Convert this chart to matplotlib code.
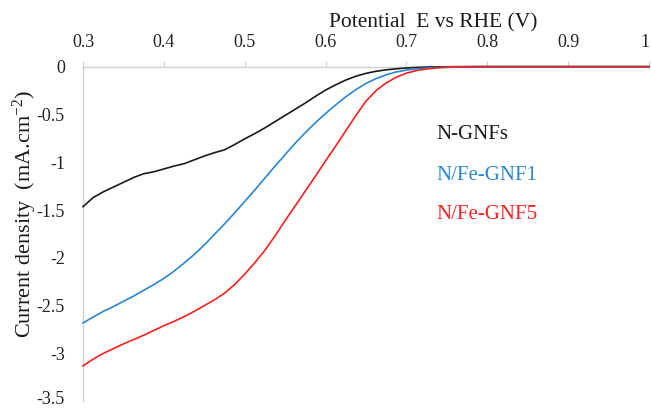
"""
LSV curves (ORR) for N-GNFs and N/Fe-GNF catalysts
"""

import numpy as np
import matplotlib.pyplot as plt
from matplotlib.transforms import ScaledTranslation

plt.rcParams['font.family'] = ['Liberation Serif', 'DejaVu Serif']
plt.rcParams['mathtext.fontset'] = 'custom'
plt.rcParams['mathtext.rm'] = 'Liberation Serif'
plt.rcParams['mathtext.it'] = 'Liberation Serif:italic'
plt.rcParams['axes.unicode_minus'] = False

# Potential (V vs RHE)
potential = [0.3000, 0.3125, 0.3250, 0.3375, 0.3500, 0.3625, 0.3750, 0.3875,
             0.4000, 0.4125, 0.4250, 0.4375, 0.4500, 0.4625, 0.4750, 0.4875,
             0.5000, 0.5125, 0.5250, 0.5375, 0.5500, 0.5625, 0.5750, 0.5875,
             0.6000, 0.6125, 0.6250, 0.6375, 0.6500, 0.6625, 0.6750, 0.6875,
             0.7000, 0.7125, 0.7250, 0.7375, 0.7500, 0.7625, 0.7750, 0.7875,
             0.8000, 1.0000]

# Current density (mA.cm-2)
j_ngnfs = [-1.465, -1.37, -1.31, -1.26, -1.21, -1.16, -1.12, -1.10,
           -1.07, -1.04, -1.015, -0.975, -0.935, -0.90, -0.87, -0.815,
           -0.755, -0.70, -0.64, -0.575, -0.51, -0.445, -0.38, -0.31,
           -0.245, -0.19, -0.14, -0.10, -0.07, -0.048, -0.033, -0.022,
           -0.014, -0.008, -0.004, -0.002, -0.001, 0.0, 0.0, 0.0,
           0.0, 0.0]
j_gnf1 = [-2.68, -2.62, -2.56, -2.51, -2.455, -2.40, -2.34, -2.28,
          -2.215, -2.14, -2.055, -1.965, -1.865, -1.755, -1.645, -1.53,
          -1.41, -1.29, -1.165, -1.04, -0.92, -0.80, -0.69, -0.585,
          -0.49, -0.40, -0.315, -0.24, -0.175, -0.125, -0.085, -0.055,
          -0.036, -0.023, -0.014, -0.008, -0.004, -0.002, -0.001, 0.0,
          0.0, 0.0]
j_gnf5 = [-3.13, -3.06, -3.00, -2.95, -2.90, -2.855, -2.81, -2.76,
          -2.71, -2.665, -2.615, -2.56, -2.50, -2.44, -2.37, -2.28,
          -2.17, -2.05, -1.92, -1.77, -1.61, -1.455, -1.30, -1.145,
          -0.985, -0.83, -0.67, -0.51, -0.36, -0.25, -0.17, -0.11,
          -0.068, -0.041, -0.024, -0.013, -0.007, -0.003, -0.001, 0.0,
          0.0, 0.0]

labels = ['N-GNFs', 'N/Fe-GNF1', 'N/Fe-GNF5']
colors = ['#1a1a1a', '#2a86d2', '#fa2020']
label_y = [-0.71, -1.14, -1.55]

fig = plt.figure(figsize=(6.51, 4.09), dpi=100)
ax = fig.add_axes([0.1275, 0.019, 0.8695, 0.818])

for j, c in zip([j_ngnfs, j_gnf1, j_gnf5], colors):
    ax.plot(potential, j, color=c, linewidth=1.2, clip_on=False, zorder=3)

# text labels instead of a legend box
for lab, c, y in zip(labels, colors, label_y):
    ax.text(0.737, y, lab, color=c, fontsize=15, ha='left', va='center')

ax.set_xlim(0.3, 1.0)
ax.set_ylim(-3.5, 0)
ax.set_xticks(np.arange(0.3, 1.01, 0.1))
ax.set_xticklabels(['0.3', '0.4', '0.5', '0.6', '0.7', '0.8', '0.9', '1'])
ax.set_yticks(np.arange(-3.5, 0.01, 0.5))
ax.set_yticklabels(['-3.5', '-3', '-2.5', '-2', '-1.5', '-1', '-0.5', '0'])

ax.xaxis.tick_top()
ax.xaxis.set_label_position('top')
ax.tick_params(axis='x', direction='out', length=4, width=0.8, color='#d0d0d0',
               pad=7, labelsize=13, labelcolor='#222222')
ax.tick_params(axis='y', length=0, pad=13, labelsize=13, labelcolor='#222222')

# keep the edge labels ("1" on the right, "-3.5" at the bottom) inside the figure
last = ax.xaxis.get_majorticklabels()[-1]
last.set_transform(last.get_transform() + ScaledTranslation(-3 / 72, 0, fig.dpi_scale_trans))
first = ax.yaxis.get_majorticklabels()[0]
first.set_transform(first.get_transform() + ScaledTranslation(0, 2.5 / 72, fig.dpi_scale_trans))

for side in ['right', 'bottom']:
    ax.spines[side].set_visible(False)
for side in ['top', 'left']:
    ax.spines[side].set_color('#d0d0d0')
    ax.spines[side].set_linewidth(1.0)

ax.set_xlabel('Potential  E vs RHE (V)', fontsize=15.5, color='#1a1a1a')
ax.xaxis.set_label_coords(0.618, 1.13)
ax.xaxis.label.set_va('center')

ax.set_ylabel(r'Current density  (mA.cm$^{-2}$)', fontsize=16, color='#1a1a1a')
ax.yaxis.set_label_coords(-0.1025, 0.56)
ax.yaxis.label.set_va('center')

plt.savefig('out.png', dpi=100)
